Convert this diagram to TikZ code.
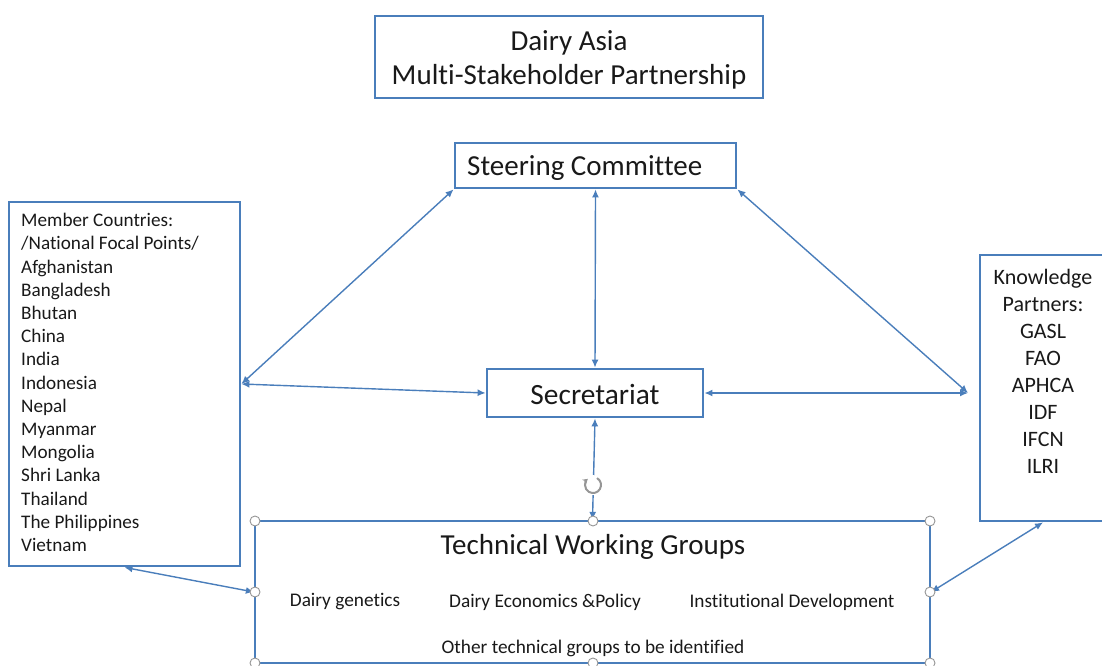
\documentclass[tikz,border=0pt]{standalone}
\usepackage{fontspec}
\setmainfont{Carlito}[Ligatures=NoCommon]
\usetikzlibrary{arrows.meta}
\definecolor{boxblue}{RGB}{74,126,187}
\definecolor{handlegray}{RGB}{150,150,150}
\definecolor{inkblack}{RGB}{25,25,25}
\begin{document}
\begin{tikzpicture}[x=1pt, y=-1pt,
  box/.style={rectangle, draw=boxblue, line width=2.8pt, inner sep=0pt},
  link/.style={draw=boxblue, line width=1.4pt, {Latex[length=8pt,width=7pt]}-{Latex[length=8pt,width=7pt]}},
  handle/.style={circle, draw=handlegray, fill=white, line width=0.9pt, minimum size=10pt, inner sep=0pt},
  txt/.style={text=inkblack, inner sep=0pt}]
\useasboundingbox (0, 0) rectangle (1102, 666);
\clip (0, 0) rectangle (1102, 666);
\path (569, 57) node[box, minimum width=388pt, minimum height=82pt] (title) {};
\path (569, 59.5) node[txt, align=center, font=\fontsize{29}{34}\selectfont] (titletext) {Dairy Asia\\Multi-Stakeholder Partnership};
\path (595.5, 165.5) node[box, minimum width=281pt, minimum height=45pt] (steering) {};
\path (467, 168) node[txt, anchor=west, font=\fontsize{29}{34}\selectfont] (steeringtext) {Steering Committee};
\path (124.5, 384) node[box, minimum width=231pt, minimum height=364pt] (members) {};
\path (21, 382.5) node[txt, anchor=west, align=left, font=\fontsize{19.2}{23.2}\selectfont] (memberstext) {Member Countries:\\/National Focal Points/\\Afghanistan\\Bangladesh\\Bhutan\\China\\India\\Indonesia\\Nepal\\Myanmar\\Mongolia\\Shri Lanka\\Thailand\\The Philippines\\Vietnam};
\path (595, 393) node[box, minimum width=216pt, minimum height=48pt] (secretariat) {};
\path (595, 394) node[txt, font=\fontsize{29.4}{34}\selectfont] (secretariattext) {Secretariat};
\path (1043, 388) node[box, minimum width=126pt, minimum height=266pt] (partners) {};
\path (1043, 371) node[txt, align=center, font=\fontsize{22}{27}\selectfont] (partnerstext) {Knowledge\\Partners:\\GASL\\FAO\\APHCA\\IDF\\IFCN\\ILRI};
\path (592.5, 592) node[box, line width=2.2pt, minimum width=675pt, minimum height=142pt] (groups) {};
\path (593, 546.5) node[txt, font=\fontsize{29}{34}\selectfont] (groupstitle) {Technical Working Groups};
\path (345, 602) node[txt, font=\fontsize{19.3}{23}\selectfont] (genetics) {Dairy genetics};
\path (545, 602) node[txt, font=\fontsize{19.3}{23}\selectfont] (economics) {Dairy Economics \&Policy};
\path (792, 602) node[txt, font=\fontsize{19.3}{23}\selectfont] (institutional) {Institutional Development};
\path (593, 648) node[txt, font=\fontsize{19.3}{23}\selectfont] (othergroups) {Other technical groups to be identified};
\coordinate (partnersin) at (968, 393);
\draw[link] (steering.south west) -- (members.east);
\draw[link] (steering.south) -- (secretariat.north);
\draw[link] (steering.south east) -- (partnersin);
\draw[link] (members.east) -- (secretariat.west);
\draw[link] (secretariat.east) -- (partnersin);
\draw[link] (secretariat.south) -- (groups.north);
\draw[link] (members.south) -- (groups.west);
\draw[link] (partners.south) -- (groups.east);
% selection handles
\foreach \hx in {255, 593, 930} {
  \foreach \hy in {521, 663} {
    \path (\hx, \hy) node[handle] {};
  }
}
\path (255, 592) node[handle] {};
\path (930, 592) node[handle] {};
\path (593, 485) node[circle, fill=white, minimum size=20pt, inner sep=0pt] (rotate) {};
\draw[handlegray, line width=2pt, -{Stealth[length=5pt,width=6pt]}] (rotate.center) ++(-60:8) arc (-60:230:8);
\end{tikzpicture}
\end{document}
